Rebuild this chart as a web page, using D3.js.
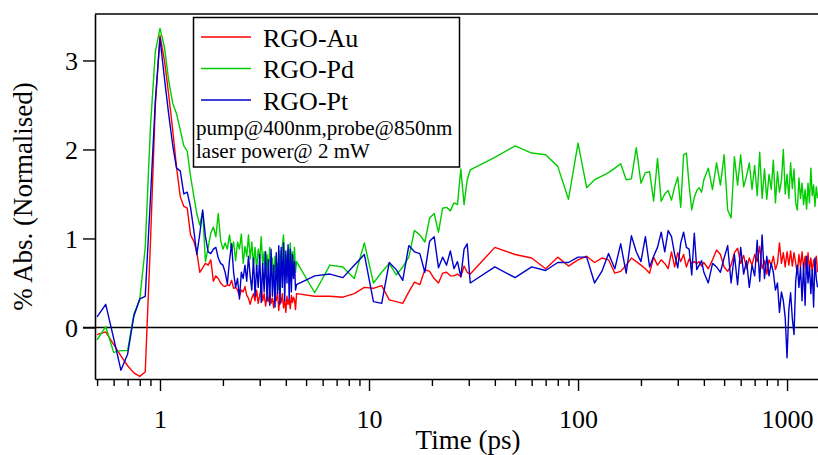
<!DOCTYPE html>
<html>
<head>
<meta charset="utf-8">
<script src="https://cdn.jsdelivr.net/npm/d3@7/dist/d3.min.js"></script>
<style>
  html, body { margin: 0; padding: 0; background: #fff; }
  svg { display: block; }
  text { font-family: "Liberation Serif", "Times New Roman", serif; fill: #000; }
</style>
</head>
<body>
<svg id="chart" width="818" height="455"></svg>
<script>
// Delay times (ps) shared by all three transient traces
const timePs = [
  0.50, 0.55, 0.60, 0.65, 0.70, 0.75, 0.80, 0.85, 0.90, 0.95,
  1.00, 1.05, 1.10, 1.15, 1.20, 1.25, 1.30, 1.35, 1.40, 1.45,
  1.50, 1.55, 1.60, 1.65, 1.70, 1.75, 1.80, 1.85, 1.90, 1.95,
  2.00, 2.05, 2.10, 2.15, 2.20, 2.25, 2.30, 2.35, 2.40, 2.45,
  2.50, 2.55, 2.60, 2.65, 2.70, 2.75, 2.80, 2.85, 2.90, 2.95,
  3.00, 3.05, 3.10, 3.15, 3.20, 3.25, 3.30, 3.35, 3.40, 3.45,
  3.50, 3.55, 3.60, 3.65, 3.70, 3.75, 3.80, 3.85, 3.90, 3.95,
  4.00, 4.05, 4.10, 4.15, 4.20, 4.25, 4.30, 4.35, 4.40, 4.45,
  4.50,
  5.5, 6.5, 7.5, 8.5, 9.5, 10.5, 11.5, 12.5, 13.5, 14.5,
  15.5, 16.5, 17.5, 18.5, 19.5, 20.5, 21.5, 22.5, 23.5, 24.5,
  25.5, 26.5, 27.5, 28.5, 29.5, 30.5,
  40, 50, 60, 70, 80, 90,
  100, 110, 120, 130, 140, 150, 160, 170, 180, 190,
  200, 210, 220, 230, 240, 250, 260, 270, 280, 290,
  300, 310, 320, 330, 340, 350, 360, 370, 380, 390,
  400,
  420, 440, 460, 480, 500, 520, 540, 560, 580, 600,
  620, 640, 660, 680, 700, 720, 740, 760, 780, 800,
  820, 840, 860, 880, 900, 920, 940, 960, 980, 1000,
  1020, 1040, 1060, 1080, 1100, 1120, 1140, 1160, 1180, 1200,
  1220, 1240, 1260, 1280, 1300, 1320, 1340, 1360, 1380, 1400
];

// % absorbance change (normalised), RGO-Au
const rgoAu = [
  -0.08, -0.05, -0.19, -0.32, -0.43, -0.51, -0.55, -0.50, 0.95, 2.50,
  3.28, 3.00, 2.62, 2.22, 1.80, 1.47, 1.36, 1.34, 1.04, 0.97,
  0.85, 0.62, 0.67, 0.72, 0.70, 0.76, 0.52, 0.58, 0.55, 0.50,
  0.47, 0.46, 0.48, 0.47, 0.53, 0.44, 0.45, 0.42, 0.35, 0.42,
  0.40, 0.46, 0.36, 0.33, 0.26, 0.33, 0.38, 0.30, 0.42, 0.27,
  0.36, 0.45, 0.30, 0.38, 0.24, 0.35, 0.29, 0.41, 0.27, 0.33,
  0.22, 0.37, 0.30, 0.40, 0.19, 0.34, 0.28, 0.38, 0.22, 0.31,
  0.17, 0.35, 0.26, 0.32, 0.21, 0.36, 0.28, 0.34, 0.31, 0.20,
  0.38,
  0.35, 0.35, 0.34, 0.38, 0.45, 0.44, 0.47, 0.31, 0.29, 0.27,
  0.40, 0.51, 0.48, 0.65, 0.63, 0.55, 0.50, 0.61, 0.62, 0.58,
  0.58, 0.60, 0.57, 0.69, 0.62, 0.60,
  0.90, 0.82, 0.78, 0.66, 0.79, 0.69,
  0.76, 0.80, 0.73, 0.78, 0.76, 0.61, 0.63, 0.70, 0.78, 0.74,
  0.70, 0.66, 0.61, 0.79, 0.70, 0.76, 0.72, 0.66, 0.85, 0.68,
  0.84, 0.74, 0.82, 0.68, 0.77, 0.72, 0.74, 0.72, 0.74, 0.69,
  0.73,
  0.66, 0.76, 0.87, 0.82, 0.68, 0.63, 0.70, 0.84, 0.89, 0.72,
  0.81, 0.66, 0.78, 0.70, 0.82, 0.74, 0.91, 0.66, 0.75, 0.60,
  0.76, 0.70, 0.80, 0.65, 0.72, 0.95, 0.72, 0.84, 0.68, 0.85,
  0.70, 0.86, 0.69, 0.84, 0.72, 0.61, 0.82, 0.68, 0.85, 0.66,
  0.80, 0.60, 0.84, 0.65, 0.78, 0.62, 0.76, 0.66, 0.80, 0.62
];

// % absorbance change (normalised), RGO-Pd
const rgoPd = [
  -0.14, 0.01, -0.28, -0.26, -0.26, 0.15, 0.31, 0.90, 2.25, 3.10,
  3.36, 3.15, 2.78, 2.52, 2.40, 2.22, 2.04, 1.98, 1.70, 1.48,
  1.28, 1.15, 1.30, 0.74, 0.90, 1.06, 1.13, 1.02, 1.28, 0.98,
  0.88, 0.95, 0.88, 1.04, 0.86, 0.96, 0.75, 0.96, 0.88, 1.05,
  0.72, 0.91, 0.80, 1.04, 0.77, 0.96, 0.70, 0.90, 0.65, 0.88,
  0.76, 1.02, 0.70, 0.85, 0.56, 0.82, 0.62, 0.90, 0.58, 0.78,
  0.50, 0.80, 0.62, 0.72, 0.42, 0.86, 0.60, 0.92, 1.04, 0.70,
  0.82, 0.58, 0.88, 0.66, 0.95, 0.72, 0.85, 0.68, 0.90, 0.62,
  0.74,
  0.39, 0.70, 0.68, 0.55, 0.95, 0.50, 0.62, 0.72, 0.59, 0.68,
  0.79, 1.09, 1.04, 0.96, 1.23, 1.28, 1.07, 1.34, 1.35, 1.31,
  1.40, 1.38, 1.78, 1.38, 1.66, 1.77,
  1.91, 2.04, 1.96, 1.94, 1.81, 1.44,
  2.07, 1.57, 1.66, 1.70, 1.74, 1.79, 1.84, 1.66, 1.67, 2.02,
  1.62, 1.74, 1.75, 1.42, 1.90, 1.42, 1.50, 1.54, 1.43, 1.58,
  1.69, 1.35, 1.94, 1.96, 1.60, 1.32, 1.46, 1.54, 1.57, 1.52,
  1.66,
  1.79, 1.55, 1.85, 1.60, 1.94, 1.32, 1.23, 1.92, 1.60, 1.94,
  1.58, 1.70, 1.85, 1.55, 1.82, 1.48, 1.97, 1.45, 1.78, 1.44,
  1.72, 1.55, 1.88, 1.40, 1.75, 1.52, 1.65, 2.00, 1.50, 1.72,
  1.45, 1.85, 1.56, 1.78, 1.40, 1.32, 1.68, 1.45, 1.62, 1.38,
  1.55, 1.33, 1.62, 1.40, 1.79, 1.48, 1.60, 1.36, 1.58, 1.45
];

// % absorbance change (normalised), RGO-Pt
const rgoPt = [
  0.12, 0.26, -0.12, -0.48, -0.30, 0.13, 0.32, 0.35, 1.45, 2.55,
  3.25, 2.80, 2.40, 2.05, 1.79, 1.76, 1.50, 1.52, 1.35, 1.10,
  0.82, 1.05, 1.32, 1.02, 0.85, 0.83, 0.88, 0.90, 0.78, 0.72,
  0.70, 0.62, 0.49, 0.75, 0.94, 0.62, 0.45, 0.55, 0.32, 0.62,
  0.55, 0.70, 0.52, 0.80, 0.58, 0.42, 0.78, 0.35, 0.70, 0.45,
  0.82, 0.28, 0.72, 0.40, 0.85, 0.30, 0.76, 0.25, 0.88, 0.35,
  0.70, 0.23, 0.84, 0.38, 0.92, 0.26, 0.90, 0.45, 0.95, 0.30,
  0.86, 0.50, 0.93, 0.32, 0.88, 0.40, 0.82, 0.55, 0.74, 0.42,
  0.48,
  0.58, 0.60, 0.56, 0.70, 0.82, 0.29, 0.27, 0.73, 0.65, 0.53,
  0.92, 0.85, 0.83, 0.62, 0.97, 1.02, 0.67, 0.79, 0.70, 0.86,
  0.66, 0.74, 0.57, 0.88, 0.94, 0.50,
  0.68, 0.56, 0.68, 0.64, 0.73, 0.73,
  0.79, 0.79, 0.50, 0.63, 0.83, 0.66, 0.94, 0.61, 1.03, 0.85,
  0.74, 1.02, 0.68, 0.80, 0.90, 1.07, 0.85, 1.09, 1.02, 0.82,
  0.67, 0.95, 1.07, 0.90, 0.88, 0.59, 1.06, 0.65, 0.70, 0.75,
  0.62,
  0.50, 0.72, 0.68, 0.62, 0.78, 0.92, 0.50, 0.82, 0.48, 0.90,
  0.60, 0.75, 0.45, 0.70, 0.58, 0.98, 0.52, 1.04, 0.55, 0.80,
  0.58, 0.72, 0.62, 0.42, 0.50, 0.17, 0.40, 0.30, 0.11, -0.34,
  0.20, 0.39, 0.10, -0.08, 0.52, 0.70, 0.45, 0.68, 0.30, 0.72,
  0.25, 0.80, 0.50, 0.70, 0.38, 0.65, 0.23, 0.78, 0.55, 0.45
];

const seriesNames = ["RGO-Au", "RGO-Pd", "RGO-Pt"];
const seriesValues = [rgoAu, rgoPd, rgoPt];
const yTickValues = [0, 1, 2, 3];
const xMajorTicks = [1, 10, 100, 1000];
const xMinorTicks = [0.5, 0.6, 0.7, 0.8, 0.9,
  2, 3, 4, 5, 6, 7, 8, 9,
  20, 30, 40, 50, 60, 70, 80, 90,
  200, 300, 400, 500, 600, 700, 800, 900];
const noteLines = ["pump@400nm,probe@850nm", "laser power@ 2 mW"];

const colors = ["#ff0000", "#00cc00", "#0000cc"];

const svg = d3.select("#chart");
const plot = { left: 95, right: 841, top: 14, bottom: 379 };

const x = d3.scaleLog().domain([0.4887, 1812]).range([plot.left, plot.right]);
const y = d3.scaleLinear().domain([-0.579, 3.522]).range([plot.bottom, plot.top]);

svg.append("defs").append("clipPath").attr("id", "plotClip")
  .append("rect")
  .attr("x", plot.left).attr("y", plot.top)
  .attr("width", plot.right - plot.left).attr("height", plot.bottom - plot.top);

// zero line, running out past the left axis like the y ticks
svg.append("line")
  .attr("x1", plot.left - 12).attr("x2", plot.right)
  .attr("y1", y(0)).attr("y2", y(0))
  .attr("stroke", "#000").attr("stroke-width", 1.5);

// traces
const line = d3.line()
  .x((d, i) => x(timePs[i]))
  .y(d => y(d));

const traces = svg.append("g").attr("clip-path", "url(#plotClip)");
seriesValues.forEach((vals, k) => {
  traces.append("path")
    .datum(vals)
    .attr("d", line)
    .attr("fill", "none")
    .attr("stroke", colors[k])
    .attr("stroke-width", 1.4)
    .attr("stroke-linejoin", "round");
});

// bottom axis: major ticks with labels, then minor ticks
const xMajor = svg.append("g")
  .attr("transform", `translate(0,${plot.bottom})`)
  .call(d3.axisBottom(x).tickValues(xMajorTicks).tickSize(12).tickSizeOuter(0)
    .tickFormat(d3.format("d")));
const xMinor = svg.append("g")
  .attr("transform", `translate(0,${plot.bottom})`)
  .call(d3.axisBottom(x).tickValues(xMinorTicks).tickSize(7).tickSizeOuter(0)
    .tickFormat(""));
xMinor.select(".domain").remove();

// left axis
const yAxis = svg.append("g")
  .attr("transform", `translate(${plot.left},0)`)
  .call(d3.axisLeft(y).tickValues(yTickValues).tickSize(12).tickSizeOuter(0)
    .tickFormat(d3.format("d")));

[xMajor, xMinor, yAxis].forEach(g => {
  g.attr("font-family", null).attr("font-size", null);
  g.selectAll(".domain").attr("stroke", "#000").attr("stroke-width", 1.6);
  g.selectAll(".tick line").attr("stroke", "#000").attr("stroke-width", 1.4);
});

xMajor.selectAll(".tick text")
  .attr("y", 49).attr("dy", null)
  .style("font-size", "26px");
yAxis.selectAll(".tick text")
  .attr("x", -17).attr("dy", "0.34em")
  .style("font-size", "26px");

// top frame line
svg.append("line")
  .attr("x1", plot.left).attr("x2", plot.right)
  .attr("y1", plot.top).attr("y2", plot.top)
  .attr("stroke", "#000").attr("stroke-width", 1.6);

// axis titles
svg.append("text")
  .attr("x", (plot.left + plot.right) / 2).attr("y", 449)
  .attr("text-anchor", "middle")
  .style("font-size", "27px")
  .text("Time (ps)");

svg.append("text")
  .attr("transform", `translate(32,${(plot.top + plot.bottom) / 2}) rotate(-90)`)
  .attr("text-anchor", "middle")
  .style("font-size", "27px")
  .text("% Abs. (Normalised)");

// legend box
const legend = svg.append("g");
legend.append("rect")
  .attr("x", 193.5).attr("y", 17.5).attr("width", 266).attr("height", 149.5)
  .attr("fill", "#fff").attr("stroke", "#000").attr("stroke-width", 1.5);

seriesNames.forEach((name, k) => {
  const cy = 37 + k * 31.5;
  legend.append("line")
    .attr("x1", 201).attr("x2", 251)
    .attr("y1", cy).attr("y2", cy)
    .attr("stroke", colors[k]).attr("stroke-width", 1.4);
  legend.append("text")
    .attr("x", 263).attr("y", cy + 9.5)
    .style("font-size", "26px")
    .text(name);
});

noteLines.forEach((t, k) => {
  legend.append("text")
    .attr("x", 196).attr("y", 135 + k * 23)
    .style("font-size", "21px")
    .text(t);
});
</script>
</body>
</html>
